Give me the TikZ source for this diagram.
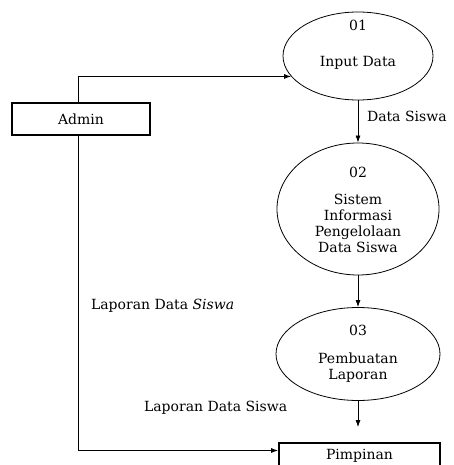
\documentclass[tikz,border=0pt]{standalone}
\usepackage{fontspec}
\setmainfont{DejaVu Serif}
\usetikzlibrary{shapes.geometric,arrows.meta}

\begin{document}
\begin{tikzpicture}[x=1pt, y=-1pt, font=\fontsize{14}{16}\selectfont,
    flow/.style={-{Latex[length=7pt,width=5pt]}, line width=0.8pt}]
    \clip (0,0) rectangle (453,465);
    \fill[white] (0,0) rectangle (453,465);
    % processes
    \draw[line width=0.8pt, every node/.style={ellipse, draw, inner sep=0pt}]
        (358,56) node[minimum width=150pt, minimum height=88pt] (p1){}
        (358,209) node[minimum width=162pt, minimum height=132pt] (p2){}
        (358,354) node[minimum width=164pt, minimum height=93pt] (p3){};
    \node[align=center] (t1) at (358,45) {01\\[20pt]Input Data};
    \node[align=center] (t2) at (358,210) {02\\[11pt]Sistem\\Informasi\\Pengelolaan\\Data Siswa};
    \node[align=center] (t3) at (358,354) {03\\[12pt]Pembuatan\\Laporan};
    % entities
    \draw[every node/.style={draw, line width=1.8pt, inner sep=0pt}]
        (81,119) node[minimum width=138pt, minimum height=32pt] (admin){Admin}
        (359.5,455.5) node[minimum width=161pt, minimum height=25pt] (pim){Pimpinan};
    % labels
    \node[anchor=west] (l1) at (363.5,116) {Data Siswa};
    \node[anchor=west] (l2) at (87.5,306) {Laporan Data \textit{Siswa}};
    \node[anchor=west] (l3) at (140.5,408) {Laporan Data Siswa};
    \coordinate (ax) at (78,0);
    \begin{scope}[flow]
        \draw (ax |- admin.north) |- (p1.197);
        \draw (p1) to (p2);
        \draw (p2) to (p3);
        \draw[shorten >=15pt] (p3) to (p3 |- pim.north);
        \draw (ax |- admin.south) |- ([yshift=5pt]pim.west);
    \end{scope}
\end{tikzpicture}
\end{document}
